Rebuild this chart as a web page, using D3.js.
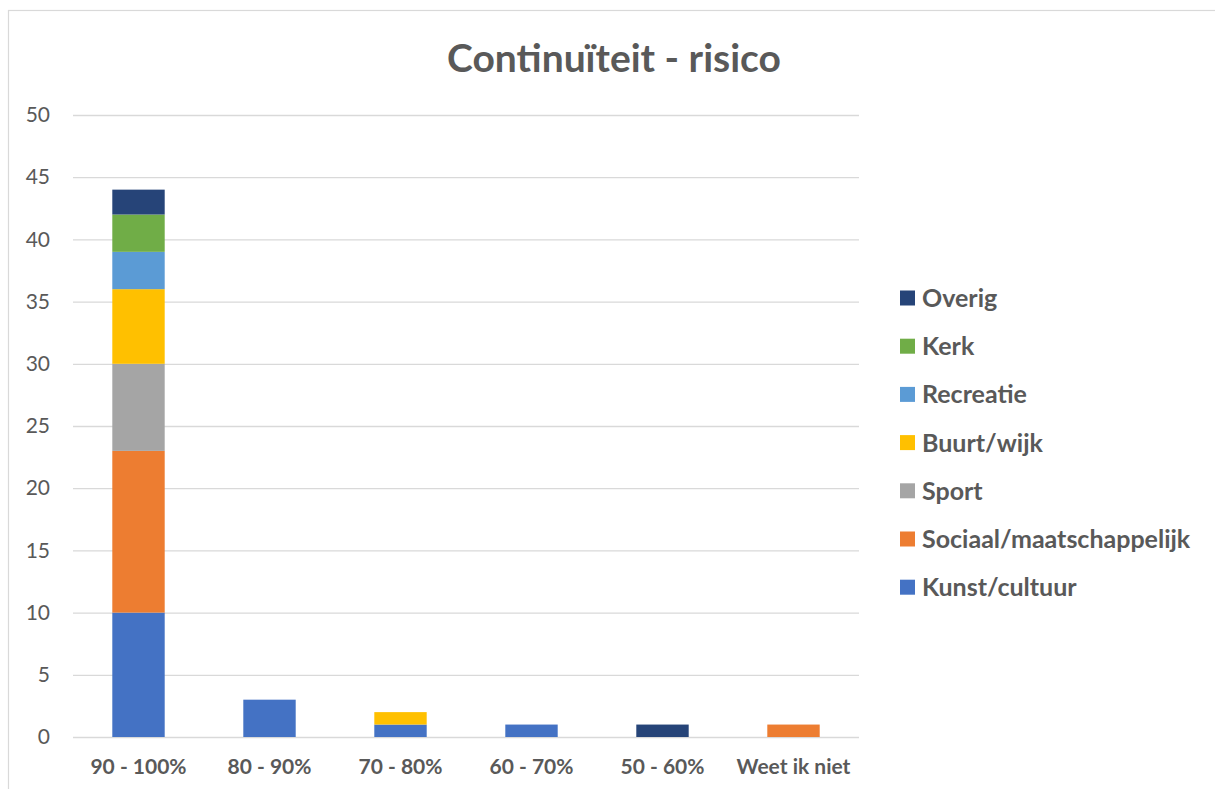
<!DOCTYPE html>
<html><head><meta charset="utf-8">
<script src="https://cdn.jsdelivr.net/npm/d3@7"></script>
<style>html,body{margin:0;padding:0;background:#fff;}svg{display:block;font-family:Lato,"Open Sans",sans-serif;}</style>
</head><body>
<svg id="c" width="1215" height="789"></svg>
<script>
const categories = ["90 - 100%","80 - 90%","70 - 80%","60 - 70%","50 - 60%","Weet ik niet"];
const seriesNames = ["Kunst/cultuur","Sociaal/maatschappelijk","Sport","Buurt/wijk","Recreatie","Kerk","Overig"];
const seriesColors = ["#4472C4","#ED7D31","#A5A5A5","#FFC000","#5B9BD5","#70AD47","#264478"];
const kunst    = [10,3,1,1,0,0];
const sociaal  = [13,0,0,0,0,1];
const sport    = [7,0,0,0,0,0];
const buurt    = [6,0,1,0,0,0];
const recreatie= [3,0,0,0,0,0];
const kerk     = [3,0,0,0,0,0];
const overig   = [2,0,0,0,1,0];
const yTicks = [0,5,10,15,20,25,30,35,40,45,50];

const seriesValues = [kunst,sociaal,sport,buurt,recreatie,kerk,overig];
const table = categories.map((c,i)=>{const o={cat:c};seriesNames.forEach((s,j)=>o[s]=seriesValues[j][i]);return o;});

const svg = d3.select("#c");
const textCol = "#595959";
// chart border
svg.append("rect").attr("x",8.5).attr("y",10.5).attr("width",1400).attr("height",1000)
  .attr("fill","none").attr("stroke","#d9d9d9").attr("stroke-width",1.2);

const pLeft=73,pRight=859,pTop=115,pBottom=737;
const x = d3.scaleBand().domain(categories).range([pLeft,pRight]).paddingInner(0.6).paddingOuter(0.3);
const y = d3.scaleLinear().domain([0,50]).range([pBottom,pTop]);

// gridlines + y labels
const ya = svg.append("g").attr("transform",`translate(${pLeft},0)`)
  .call(d3.axisLeft(y).tickValues(yTicks).tickSize(-(pRight-pLeft)).tickPadding(23));
ya.select(".domain").remove();
ya.selectAll(".tick line").attr("stroke","#d9d9d9").attr("stroke-width",1.3);
ya.selectAll(".tick text").attr("fill",textCol).style("font-size","21px").attr("font-family","Lato");

const stack = d3.stack().keys(seriesNames)(table);
svg.append("g").selectAll("g").data(stack).join("g")
  .attr("fill",(d,i)=>seriesColors[i])
  .selectAll("rect").data(d=>d.filter(v=>v[1]-v[0]>0)).join("rect")
  .attr("x",d=>x(d.data.cat)).attr("width",x.bandwidth())
  .attr("y",d=>y(d[1])).attr("height",d=>y(d[0])-y(d[1]));

// x labels
const xa = svg.append("g").attr("transform",`translate(0,${pBottom})`)
  .call(d3.axisBottom(x).tickSize(0).tickPadding(22));
xa.select(".domain").remove();
xa.selectAll(".tick text").attr("fill",textCol).style("font-size","21px").style("font-weight","bold").attr("font-family","Lato");

// title
svg.append("text").attr("x",614).attr("y",72).attr("text-anchor","middle")
  .attr("fill",textCol).style("font-size","39px").style("font-weight","bold").text("Continuïteit - risico");

// legend
const lg = svg.append("g");
const legendOrder = seriesNames.map((s,i)=>i).reverse();
legendOrder.forEach((si,k)=>{
  const cy = 298 + k*48.2;
  lg.append("rect").attr("x",900).attr("y",cy-7.5).attr("width",15).attr("height",15).attr("fill",seriesColors[si]);
  lg.append("text").attr("x",922).attr("y",cy).attr("dy","0.36em").attr("fill",textCol)
    .style("font-size","25px").style("font-weight","bold").text(seriesNames[si]);
});
</script>
</body></html>
